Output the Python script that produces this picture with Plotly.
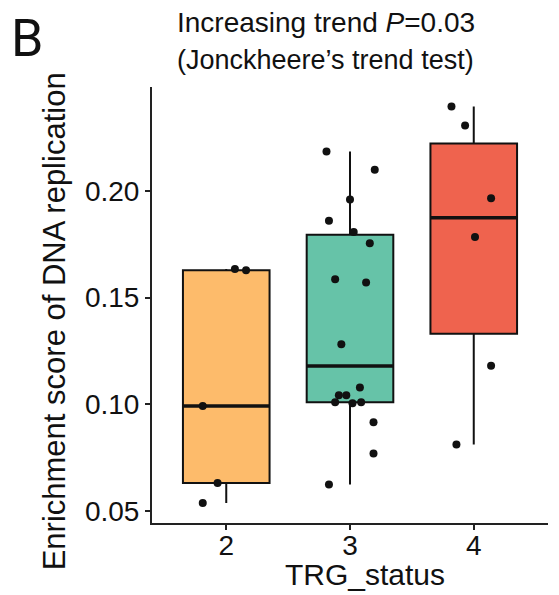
import numpy as np
import plotly.graph_objects as go

# TRG_status groups and the enrichment scores
GROUPS = [2, 3, 4]
SCORES = {
    2: [0.1634, 0.1628, 0.0992, 0.0631, 0.0537],
    3: [0.2186, 0.2100, 0.1960, 0.1861, 0.1808, 0.1755, 0.1586, 0.1571, 0.1281,
        0.1078, 0.1042, 0.1042, 0.1009, 0.1005, 0.1009, 0.0916, 0.0769, 0.0623],
    4: [0.2397, 0.2308, 0.1966, 0.1784, 0.1180, 0.0811],
}
# horizontal jitter of each dot (in category units)
JITTER = {
    2: [0.07, 0.16, -0.19, -0.07, -0.19],
    3: [-0.19, 0.20, 0.00, -0.17, 0.03, 0.16, -0.12, 0.13, -0.07,
        0.08, -0.09, -0.03, -0.12, 0.02, 0.09, 0.19, 0.19, -0.17],
    4: [-0.18, -0.07, 0.14, 0.01, 0.14, -0.14],
}
COLORS = {2: "#FDBB6B", 3: "#66C3A8", 4: "#EF634E"}
Y_TICKS = [0.05, 0.10, 0.15, 0.20]

BOX_W = 0.7
FONT = "Liberation Sans, Arial, sans-serif"

fig = go.Figure()

for g in GROUPS:
    vals = np.array(SCORES[g])
    q1, med, q3 = np.percentile(vals, [25, 50, 75])
    iqr = q3 - q1
    lo = vals[vals >= q1 - 1.5 * iqr].min()
    hi = vals[vals <= q3 + 1.5 * iqr].max()
    fig.add_trace(go.Box(
        x=[g], q1=[q1], median=[med], q3=[q3],
        lowerfence=[lo], upperfence=[hi],
        width=BOX_W, whiskerwidth=0,
        fillcolor=COLORS[g],
        line={"color": "#111", "width": 2},
        boxpoints=False, hoverinfo="skip",
    ))
    # thicker median bar, as ggplot draws it
    fig.add_trace(go.Scatter(
        x=[g - BOX_W / 2, g + BOX_W / 2], y=[med, med],
        mode="lines", line={"color": "#111", "width": 3.5},
        hoverinfo="skip",
    ))
    fig.add_trace(go.Scatter(
        x=[g + j for j in JITTER[g]], y=vals,
        mode="markers",
        marker={"color": "#111", "size": 8},
        hovertemplate="%{y:.3f}<extra></extra>",
    ))

# the page body adds an 8px margin, so the figure is 8px smaller each way
fig.update_layout(
    width=551, height=587,
    margin={"l": 144, "r": 11, "t": 79, "b": 72},
    plot_bgcolor="#fff", paper_bgcolor="#fff",
    showlegend=False,
    font={"family": FONT, "color": "#111"},
)
fig.update_xaxes(
    range=[1.4, 4.6], tickvals=GROUPS, ticktext=[str(g) for g in GROUPS],
    showline=True, linecolor="#222", linewidth=2,
    ticks="outside", ticklen=5, tickwidth=2, tickcolor="#222",
    showgrid=False, zeroline=False, tickfont={"size": 28}, automargin=False,
    ticklabelstandoff=-9,
)
fig.update_yaxes(
    range=[0.0443, 0.2488], tickvals=Y_TICKS, ticktext=[f"{t:.2f}" for t in Y_TICKS],
    showline=True, linecolor="#222", linewidth=2,
    ticks="outside", ticklen=5, tickwidth=2, tickcolor="#222",
    showgrid=False, zeroline=False, tickfont={"size": 28}, automargin=False,
)

annots = [
    dict(text="Increasing trend <i>P</i>=0.03", x=0.439, y=1.147, size=28),
    dict(text="(Jonckheere’s trend test)", x=0.437, y=1.062, size=27),
    dict(text="Enrichment score of DNA replication", x=-0.247, y=0.463, size=31, angle=-90),
    dict(text="TRG_status", x=0.538, y=-0.119, size=30),
]
for a in annots:
    fig.add_annotation(
        text=a["text"], x=a["x"], y=a["y"], xref="paper", yref="paper",
        xanchor="center", yanchor="middle", showarrow=False,
        textangle=a.get("angle", 0), font={"size": a["size"]},
    )
fig.add_annotation(
    text="B", x=-0.36, y=1.111, xref="paper", yref="paper",
    xanchor="left", yanchor="middle", showarrow=False,
    font={"size": 52, "family": "Roboto, sans-serif"},
)

fig.write_html("out.html")
